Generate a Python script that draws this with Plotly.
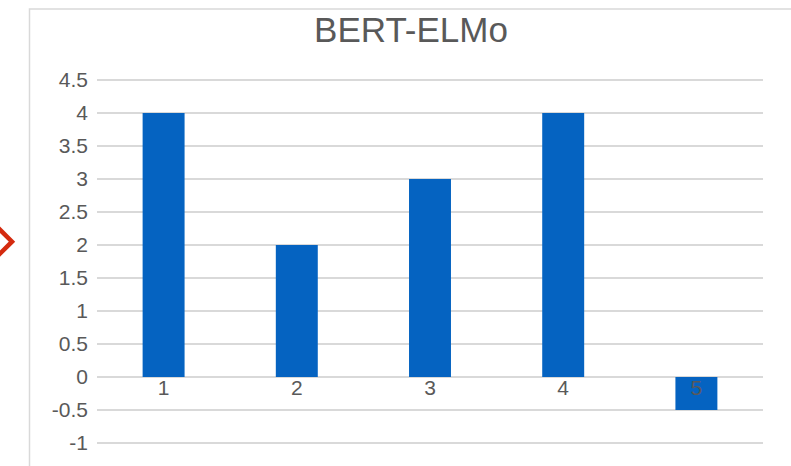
import plotly.graph_objects as go

# Chart data
categories = ["1", "2", "3", "4", "5"]
scores = [4, 2, 3, 4, -0.5]
y_ticks = [-1, -0.5, 0, 0.5, 1, 1.5, 2, 2.5, 3, 3.5, 4, 4.5]

W, H = 791, 466
ML, MR, MT, MB = 97, 28, 78, 18
# small padding so the outermost gridlines are not clipped at the plot edge
Y_MIN, Y_MAX = -1.03, 4.53

TEXT = "#595959"
GRID = "#D9D9D9"
FONT = "Liberation Sans, Arial, Helvetica, sans-serif"

fig = go.Figure(
    go.Bar(
        x=categories,
        y=scores,
        marker=dict(color="#0563C1", line=dict(width=0)),
        width=0.315,
        hoverinfo="x+y",
    )
)

PLOT_W = W - ML - MR
PLOT_H = H - MT - MB


def px_to_paper_x(px):
    return (px - ML) / PLOT_W


def px_to_paper_y(py):
    return 1 - (py - MT) / PLOT_H


# Outer frame of the chart area (runs off the right and bottom edges)
fig.add_shape(
    type="rect", xref="paper", yref="paper",
    x0=px_to_paper_x(29.5), x1=px_to_paper_x(800),
    y0=px_to_paper_y(480), y1=px_to_paper_y(8.5),
    line=dict(color=GRID, width=1.5), fillcolor="rgba(0,0,0,0)",
    layer="below",
)

# Red chevron marker on the left margin
fig.add_shape(
    type="path", xref="paper", yref="paper",
    path=(f"M {px_to_paper_x(-2)} {px_to_paper_y(229)} "
          f"L {px_to_paper_x(12)} {px_to_paper_y(243)} "
          f"L {px_to_paper_x(-2)} {px_to_paper_y(257)}"),
    line=dict(color="#D42B0F", width=4.5),
)

# category labels sit just under the zero line
zero_frac = (0 - Y_MIN) / (Y_MAX - Y_MIN)
label_frac = zero_frac + 4 / PLOT_H

fig.update_layout(
    width=W, height=H,
    margin=dict(l=ML, r=MR, t=MT, b=MB),
    paper_bgcolor="white", plot_bgcolor="white",
    showlegend=False,
    bargap=0.685,
    font=dict(family=FONT, color=TEXT),
    title=dict(
        text="BERT-ELMo",
        xref="container", yref="container",
        x=411 / W, xanchor="center",
        y=1 - 30 / H, yanchor="middle",
        font=dict(size=35, color=TEXT, family=FONT),
    ),
    xaxis=dict(
        type="category",
        anchor="free",
        position=label_frac,
        showline=False, showgrid=False, zeroline=False,
        ticks="", tickfont=dict(size=21, color=TEXT),
        ticklabelstandoff=0,
    ),
    yaxis=dict(
        range=[Y_MIN, Y_MAX],
        tickvals=y_ticks,
        ticktext=[f"{v:g}" for v in y_ticks],
        showgrid=True, gridcolor=GRID, gridwidth=1.5,
        zeroline=True, zerolinecolor=GRID, zerolinewidth=1.5,
        showline=False, ticks="",
        tickfont=dict(size=21, color=TEXT),
        ticklabelstandoff=8,
    ),
)

fig.write_html("out.html")
